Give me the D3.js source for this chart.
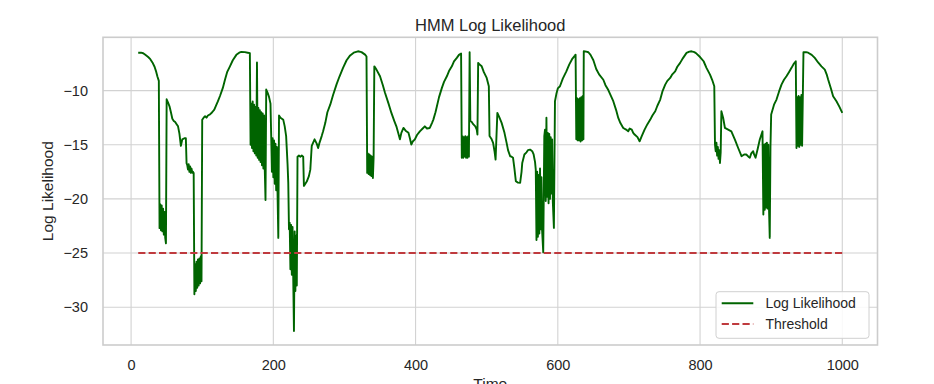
<!DOCTYPE html>
<html>
<head>
<meta charset="utf-8">
<script src="https://cdn.jsdelivr.net/npm/d3@7"></script>
<style>
  html, body { margin: 0; padding: 0; background: #ffffff; }
  svg { display: block; }
  text { font-family: "Liberation Sans", Arial, sans-serif; fill: #262626; }
</style>
</head>
<body>
<svg id="chart" width="934" height="384"></svg>
<script>
// ---------------- data ----------------
const chartTitle = "HMM Log Likelihood";
const xLabel = "Time";
const yLabel = "Log Likelihood";
const seriesNames = ["Log Likelihood", "Threshold"];
const xTicks = [0, 200, 400, 600, 800, 1000];
const yTicks = [-10, -15, -20, -25, -30];
const thresholdValue = -25;
const thresholdSpan = [10, 1000];

// [time, log likelihood]
const logLikelihood = [
  [10,-6.5],[14,-6.5],[17,-6.55],[20,-6.7],[24,-6.9],[27,-7.1],[30,-7.4],[33,-7.8],[35,-8.2],[37,-8.7],[39,-9.1],
  [40,-22.7],[41,-20.5],[42,-22.9],[43,-20.6],[44,-23.0],[45,-20.9],[46,-23.3],[47,-21.2],[48,-23.6],[49,-24.1],
  [50,-10.8],[52,-11.1],[54,-11.45],[56,-12.0],[58,-12.6],[60,-12.8],[62,-12.9],[64,-13.1],[66,-13.3],[68,-14.0],[70,-15.1],[71,-14.8],[72,-14.5],[75,-14.4],[77,-14.4],[78,-16.7],[79,-16.9],[80,-17.3],[81,-16.8],[82,-17.5],[83,-17.0],[84,-17.6],[85,-17.2],[86,-17.6],[87,-17.5],[88,-17.6],
  [89,-28.8],[90,-26.0],[91,-28.5],[92,-25.8],[93,-28.2],[94,-25.6],[95,-28.0],[96,-25.5],[97,-27.8],[98,-25.3],[99,-27.6],
  [100,-12.7],[102,-12.5],[104,-12.37],[106,-12.5],[108,-12.3],[111,-12.2],[114,-12.0],[117,-11.75],[120,-11.3],[122,-11.0],[125,-10.5],[129,-9.75],[132,-9.0],[135,-8.3],[139,-7.76],[143,-7.2],[148,-6.7],[152,-6.5],[155,-6.43],[160,-6.45],[164,-6.5],[167,-6.55],
  [168,-15.0],[169,-11.2],[170,-15.3],[171,-11.0],[172,-15.6],[173,-11.3],[174,-15.8],[175,-11.5],[176,-16.0],[177,-7.4],[178,-16.2],[179,-11.6],[180,-16.4],[181,-11.8],[182,-16.6],[183,-12.0],[184,-16.9],[185,-12.1],[186,-17.2],[187,-12.3],[188,-17.4],[189,-20.1],[190,-9.9],
  [192,-10.2],[194,-10.6],[196,-11.2],
  [197,-14.2],[198,-17.5],[199,-14.4],[200,-18.0],[201,-14.6],[202,-18.6],[203,-14.9],[204,-19.2],[205,-15.2],[206,-19.8],[207,-23.6],[208,-12.3],
  [210,-12.5],[212,-12.6],[214,-12.7],[216,-13.3],[218,-14.2],[219,-15.5],[220,-16.8],[221,-18.5],[222,-22.8],
  [223,-22.2],[224,-26.5],[225,-22.4],[226,-27.0],[227,-22.6],[228,-27.4],[229,-32.2],[230,-23.0],[231,-28.5],[232,-23.4],[233,-28.0],[234,-16.1],
  [236,-16.0],[238,-16.1],[240,-16.0],[242,-16.1],[243,-18.8],[245,-18.6],[247,-18.4],[250,-17.9],[252,-17.3],[253,-16.2],[254,-15.1],[256,-14.8],[258,-14.5],[261,-14.9],[263,-15.3],[265,-14.8],[268,-14.2],[270,-13.76],[273,-13.0],[276,-12.0],[280,-11.3],[284,-10.4],[289,-9.4],[293,-8.7],[298,-7.9],[303,-7.2],[308,-6.75],[313,-6.5],[319,-6.37],[324,-6.45],[329,-6.68],[331,-6.85],
  [332,-17.6],[333,-15.8],[334,-17.7],[335,-15.9],[336,-17.8],[337,-16.0],[338,-17.9],[339,-16.1],[340,-18.07],[341,-16.2],[342,-7.76],
  [345,-8.06],[350,-8.68],[354,-9.5],[357,-10.2],[362,-11.2],[366,-12.06],[370,-12.8],[373,-13.3],[376,-14.0],[378,-14.5],[380,-13.9],[383,-13.45],[386,-13.7],[390,-13.9],[392,-14.4],[394,-14.98],[396,-14.7],[399,-14.5],[402,-14.1],[406,-13.76],[410,-13.5],[413,-13.3],[416,-13.5],[420,-13.45],[423,-13.0],[425,-12.68],[428,-12.0],[430,-11.45],[433,-10.6],[437,-9.75],[440,-9.2],[444,-8.68],[447,-8.2],[451,-7.76],[454,-7.3],[458,-6.98],[461,-6.7],[464,-6.58],
  [465,-16.2],[466,-14.2],[467,-16.2],[468,-14.3],[469,-16.1],[470,-14.2],[471,-16.2],[472,-14.3],[473,-16.2],[474,-14.2],[475,-16.1],[476,-6.46],[477,-12.8],[479,-12.9],[481,-13.1],[484,-13.3],[486,-13.6],[487,-14.06],[488,-7.44],
  [490,-7.6],[493,-7.76],[496,-8.3],[500,-8.83],[503,-9.6],[504,-14.2],[507,-14.5],[509,-14.83],[511,-15.6],[512.5,-16.37],[515,-12.06],[518,-12.5],[521,-12.98],[525,-13.9],[528,-14.83],[530,-15.5],[533,-16.06],[535,-16.1],[537,-16.2],[539,-17.2],[541,-18.37],[544,-18.5],[547,-18.52],[549,-17.5],[550,-16.68],[553,-15.9],[556,-15.7],[558,-15.5],[561,-15.45],[564,-15.6],[566,-15.9],[568,-16.6],[569,-17.3],
  [570,-23.8],[571,-17.5],[572,-23.5],[573,-17.8],[574,-23.2],[575,-17.2],[576,-22.8],[577,-18.0],[578,-23.0],[579.5,-24.93],[581,-14.2],[582,-13.6],[583,-20.2],[584,-12.5],[585,-19.8],[586,-13.9],[587,-20.4],[588,-14.0],[589,-20.0],[590,-14.3],[591,-19.5],[592,-14.5],[593,-20.3],[594.5,-22.68],[596,-10.98],
  [598,-10.3],[600,-9.8],[603,-9.6],[607,-8.9],[612,-8.22],[616,-7.6],[620,-7.1],[624,-6.77],[625,-6.68],
  [626,-14.5],[627,-10.7],[628,-14.6],[629,-10.8],[630,-14.6],[631,-10.7],[632,-14.7],[633,-10.6],[634,-14.6],[635,-10.5],[636,-14.5],[636.5,-6.37],
  [640,-6.4],[643,-6.46],[646,-6.7],[650,-7.2],[654,-8.0],[658,-8.5],[664,-9.0],[667,-9.5],[671,-9.95],[678,-10.98],[682,-11.8],[685,-12.52],[688,-13.0],[692,-13.45],[696,-13.6],[699,-13.76],[701,-13.5],[704,-13.6],[706,-13.9],[708,-14.06],[712,-14.3],[715,-14.68],[718,-14.2],[722,-13.6],[726,-13.1],[730,-12.68],[733,-12.3],[737,-11.91],[740,-11.4],[744,-10.83],[747,-10.1],[751,-9.45],[754,-9.1],[758,-8.83],[761,-8.5],[765,-8.22],[768,-7.8],[772,-7.44],[776,-7.0],[781,-6.52],[785,-6.4],[788,-6.37],[792,-6.45],[795,-6.58],[800,-6.9],[805,-7.29],[809,-7.9],[814,-8.52],[817,-9.0],[820,-9.6],
  [821,-14.98],[822,-15.6],[823,-14.8],[824,-16.0],[825,-15.2],[826,-16.3],[827,-15.5],[828,-16.68],[829,-15.7],[830,-11.91],[832.5,-12.52],[835,-13.45],[839.5,-13.6],[844,-13.76],[849,-14.52],[853.6,-15.3],[858.3,-16.06],[862,-15.9],[865,-15.9],[868,-16.1],[870,-16.2],[872,-15.8],[874.7,-15.6],[876,-15.9],[878,-16.2],[881,-15.4],[884,-14.52],[887.8,-13.76],
  [889,-21.45],[890,-15.0],[891,-21.0],[892,-14.9],[893,-20.8],[894,-14.8],[895,-20.9],[896,-15.0],[897,-21.0],[898,-23.6],[899,-15.2],[900,-12.2],
  [904,-11.3],[907.5,-10.83],[911,-10.1],[914.5,-9.45],[918,-9.0],[921.5,-8.68],[925,-8.3],[928.6,-7.9],[932,-7.5],[934.6,-7.29],
  [935.6,-15.3],[936.5,-10.6],[937.5,-15.1],[938.5,-10.5],[939.5,-15.2],[940.5,-10.6],[941.5,-15.0],[942.5,-10.4],[943.5,-15.1],[944.5,-10.5],[945.4,-6.46],
  [949,-6.45],[952,-6.5],[957,-6.7],[961.3,-6.98],[966,-7.4],[970.7,-7.76],[975.4,-8.06],[978,-8.5],[980.1,-8.98],[984,-9.8],[987.1,-10.52],[991.8,-10.98],[996,-11.5],[1000,-12.06]
];

// ---------------- layout ----------------
const W = 934, H = 384;
const margin = { left: 103, right: 56.5, top: 37.3, bottom: 39 };
const plotL = margin.left, plotR = W - margin.right, plotT = margin.top, plotB = H - margin.bottom;

const svg = d3.select("#chart");

// matplotlib-like 5% margins
const tExt = d3.extent(logLikelihood, d => d[0]);
const vExt = d3.extent(logLikelihood, d => d[1]);
const tPad = (tExt[1] - tExt[0]) * 0.05;
const vPad = (vExt[1] - vExt[0]) * 0.05;

const x = d3.scaleLinear().domain([tExt[0] - tPad, tExt[1] + tPad]).range([plotL, plotR]);
const y = d3.scaleLinear().domain([vExt[0] - vPad, vExt[1] + vPad]).range([plotB, plotT]);

// background
svg.append("rect").attr("x", plotL).attr("y", plotT)
  .attr("width", plotR - plotL).attr("height", plotB - plotT).attr("fill", "#ffffff");

// grid
const grid = svg.append("g").attr("stroke", "#d2d2d2").attr("stroke-width", 1.1);
grid.selectAll("line.gx").data(xTicks).join("line")
  .attr("x1", d => x(d)).attr("x2", d => x(d)).attr("y1", plotT).attr("y2", plotB);
grid.selectAll("line.gy").data(yTicks).join("line")
  .attr("x1", plotL).attr("x2", plotR).attr("y1", d => y(d)).attr("y2", d => y(d));

// clip
svg.append("clipPath").attr("id", "clip").append("rect")
  .attr("x", plotL).attr("y", plotT).attr("width", plotR - plotL).attr("height", plotB - plotT);

const plot = svg.append("g").attr("clip-path", "url(#clip)");

const line = d3.line().x(d => x(d[0])).y(d => y(d[1]));

plot.append("path").datum(logLikelihood)
  .attr("fill", "none").attr("stroke", "#006400").attr("stroke-width", 1.9)
  .attr("stroke-linejoin", "round").attr("stroke-linecap", "butt")
  .attr("d", line);

const thresholdLine = thresholdSpan.map(t => [t, thresholdValue]);
plot.append("path").datum(thresholdLine)
  .attr("fill", "none").attr("stroke", "#bf3a3e").attr("stroke-width", 1.9)
  .attr("stroke-dasharray", "7.2,3.2")
  .attr("d", line);

// spines
svg.append("rect").attr("x", plotL).attr("y", plotT)
  .attr("width", plotR - plotL).attr("height", plotB - plotT)
  .attr("fill", "none").attr("stroke", "#cccccc").attr("stroke-width", 1.6);

// axes
const fmt = d => (d < 0 ? "\u2212" + Math.abs(d) : String(d));
const xAxis = svg.append("g").attr("transform", `translate(0,${plotB})`)
  .call(d3.axisBottom(x).tickValues(xTicks).tickSize(0).tickPadding(15).tickFormat(fmt));
const yAxis = svg.append("g").attr("transform", `translate(${plotL},0)`)
  .call(d3.axisLeft(y).tickValues(yTicks).tickSize(0).tickPadding(15).tickFormat(fmt));
[xAxis, yAxis].forEach(a => {
  a.select(".domain").remove();
  a.selectAll("text").attr("font-size", "14.5px").attr("fill", "#262626")
    .attr("font-family", "'Liberation Sans', Arial, sans-serif");
});

// title & labels
svg.append("text").attr("x", (plotL + plotR) / 2).attr("y", 30.5)
  .attr("text-anchor", "middle").attr("font-size", "16.5px").text(chartTitle);
svg.append("text").attr("x", (plotL + plotR) / 2).attr("y", 388.5)
  .attr("text-anchor", "middle").attr("font-size", "15.5px").text(xLabel);
svg.append("text")
  .attr("transform", `translate(53,${(plotT + plotB) / 2}) rotate(-90)`)
  .attr("text-anchor", "middle").attr("font-size", "15.5px").text(yLabel);

// legend
const lg = svg.append("g");
lg.append("rect").attr("x", 716).attr("y", 291.7).attr("width", 153).attr("height", 46.6)
  .attr("rx", 3).attr("fill", "#ffffff").attr("fill-opacity", 0.85)
  .attr("stroke", "#d0d0d0").attr("stroke-width", 1);
const legendItems = [
  { name: seriesNames[0], color: "#006400", dash: null, yy: 303.3 },
  { name: seriesNames[1], color: "#bf3a3e", dash: "7.2,3.2", yy: 324 }
];
legendItems.forEach(it => {
  lg.append("line").attr("x1", 721.7).attr("x2", 753.3).attr("y1", it.yy).attr("y2", it.yy)
    .attr("stroke", it.color).attr("stroke-width", 1.9)
    .attr("stroke-dasharray", it.dash);
  lg.append("text").attr("x", 765.5).attr("y", it.yy + 5).attr("font-size", "14px").text(it.name);
});
</script>
</body>
</html>
